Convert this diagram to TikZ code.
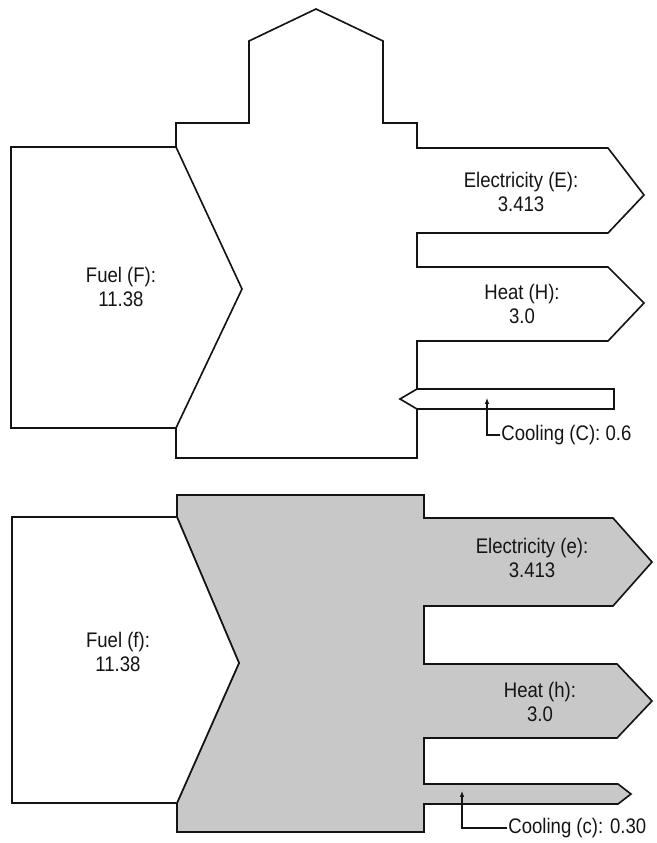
\documentclass[tikz,border=0pt]{standalone}
\usepackage{fontspec}
\setmainfont{Liberation Sans}[FakeStretch=0.88]
\usepackage{xcolor}
\usepackage{tikz}
\usetikzlibrary{arrows.meta}
\definecolor{inkblack}{RGB}{20,20,20}
\definecolor{stipple}{RGB}{200,200,200}

\begin{document}
\begin{tikzpicture}[x=0.03cm,y=-0.03cm,font=\fontsize{18}{21}\selectfont,>=Latex,line join=miter]
\useasboundingbox (0,0) rectangle (657,843);
\tikzset{outline/.style={draw=inkblack,line width=1.4pt},
  flowlabel/.style={align=center,text=inkblack,inner sep=1pt},
  leader/.style={->,draw=inkblack,line width=0.9pt,>={Latex[length=5pt,width=4pt]}}}
% Upper diagram
\begin{scope}
  \draw[outline] (176,147) -- (176,123) -- (249,123) -- (249,41) -- (316,9)
    -- (383,41) -- (383,123) -- (417,123) -- (417,148) -- (608,148)
    -- (644,195) -- (608,233) -- (417,233) -- (417,267) -- (608,267)
    -- (644,303) -- (608,341) -- (417,341) -- (417,389);
  \draw[outline] (417,409) -- (417,458) -- (176,458) -- (176,428);
  \draw[outline] (11,147) -- (176,147) -- (242,289) -- (176,428) -- (11,428) -- cycle;
  \draw[outline] (417,389) -- (614,389) -- (614,409) -- (417,409) -- (400,399) -- cycle;
  \node[flowlabel] (fuelF) at (121,287) {Fuel (F):\\11.38};
  \node[flowlabel] (elecE) at (521,192) {Electricity (E):\\3.413};
  \node[flowlabel] (heatH) at (522,304) {Heat (H):\\3.0};
  \coordinate (coolCtip) at (487,398);
  \node[flowlabel,anchor=west] (coolC) at (500,435) {Cooling (C): 0.6};
  \draw[leader] (coolC.west) -| (coolCtip);
\end{scope}

% Lower diagram
\begin{scope}
  \draw[outline,fill=stipple] (177,517) -- (177,495) -- (424,495) -- (424,518)
    -- (613,518) -- (652,562) -- (613,606) -- (424,606) -- (424,664)
    -- (617,664) -- (652,701) -- (617,738) -- (424,738) -- (424,784)
    -- (618,784) -- (631,794) -- (618,804) -- (424,804) -- (424,832)
    -- (177,832) -- (177,803) -- (239,663) -- cycle;
  \draw[outline,fill=white] (12,517) -- (177,517) -- (239,663) -- (177,803) -- (12,803) -- cycle;
  \node[flowlabel] (fuelf) at (118,652) {Fuel (f):\\11.38};
  \node[flowlabel] (elece) at (532,558) {Electricity (e):\\3.413};
  \node[flowlabel] (heath) at (540,702) {Heat (h):\\3.0};
  \coordinate (coolctip) at (462,791);
  \node[flowlabel,anchor=west] (coolc) at (507,828) {Cooling (c): 0.30};
  \draw[leader] (coolc.west) -| (coolctip);
\end{scope}
\end{tikzpicture}
\end{document}
